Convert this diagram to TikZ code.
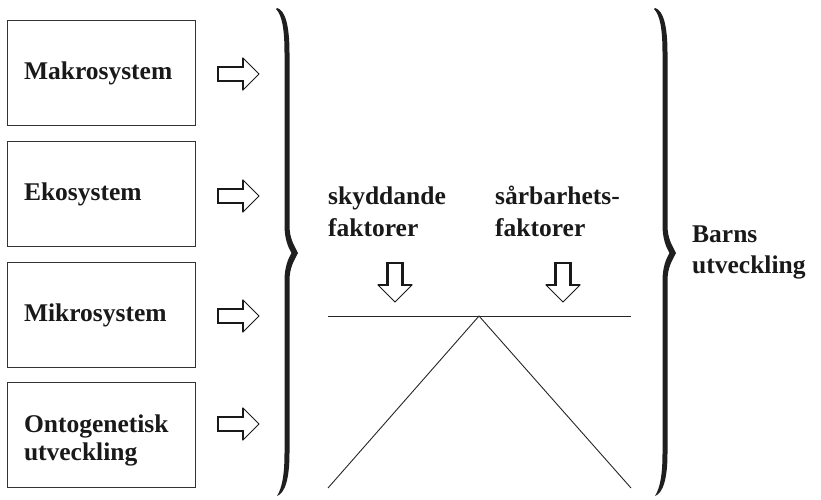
\documentclass[tikz,border=0pt]{standalone}
\usepackage{fontspec}
\setmainfont{Liberation Serif}
\begin{document}
\begin{tikzpicture}[x=1pt,y=-1pt,
  txt/.style={font=\fontsize{25.5}{28}\bfseries\selectfont, text=black!90},
  box/.style={txt, draw=black!80, line width=0.9pt, minimum width=188pt, minimum height=105pt,
    text width=154pt, inner xsep=17pt, inner ysep=0pt, align=left},
  onebox/.style={box, text height=17pt, text depth=3pt},
  lbl/.style={txt, inner sep=0pt, align=left},
  rarr/.pic={
    \draw[line width=1pt, line join=miter, draw=black!90] (-20.5,-7) -- (4.5,-7) -- (4.5,-16) -- (20.5,0) -- (4.5,16) -- (4.5,7) -- (-20.5,7) -- cycle;
    \draw[line width=2.8pt, draw=black!90] (4.5,-16) -- (4.5,-7) -- (-20.5,-7) -- (-20.5,7) -- (4.5,7) -- (4.5,16);
  },
  darr/.pic={
    \draw[line width=1pt, line join=miter, draw=black!90] (-7.5,-19.5) -- (7.5,-19.5) -- (7.5,2.5) -- (17,2.5) -- (0,19.5) -- (-17,2.5) -- (-7.5,2.5) -- cycle;
    \draw[line width=2.8pt, draw=black!90] (-17,2.5) -- (-7.5,2.5) -- (-7.5,-19.5) -- (7.5,-19.5) -- (7.5,2.5) -- (17,2.5);
  },
  brace/.pic={
    \fill[black!88] (-20,-245) .. controls (-12,-243) and (-7.5,-228) .. (-7.5,-200) -- (-7.5,-28)
      .. controls (-7.5,-14) and (-3,-8) .. (1,0)
      .. controls (-3,8) and (-7.5,14) .. (-7.5,28) -- (-7.5,200)
      .. controls (-7.5,226) and (-12,240) .. (-20,243)
      .. controls (-15,235) and (-12.5,222) .. (-12.5,200) -- (-12.5,28)
      .. controls (-12.5,14) and (-9,6) .. (-5.5,0)
      .. controls (-9,-6) and (-12.5,-14) .. (-12.5,-28) -- (-12.5,-200)
      .. controls (-12.5,-224) and (-15,-238) .. (-21,-244) -- cycle;
  }]
\useasboundingbox (0,0) rectangle (821,499);

% left boxes
\node[onebox] (b1) at (101,72.5) {Makrosystem};
\node[onebox] (b2) at (101,193.5) {Ekosystem};
\node[onebox] (b3) at (101,314.5) {Mikrosystem};
\node[box] (b4) at (101,435) {\parbox{154pt}{\vspace*{10pt}Ontogenetisk\\utveckling}};

% hollow right arrows
\pic at (238.5,74) {rarr};
\pic at (238.5,196) {rarr};
\pic at (238.5,316) {rarr};
\pic at (238.5,424) {rarr};

% braces
\pic at (297,253) {brace};
\pic at (675,253) {brace};

% factor labels (anchor = baseline of last line)
\node[lbl, anchor=base west, font=\fontsize{25.5}{32}\bfseries\selectfont] (sk) at (328,236) {skyddande\\faktorer};
\node[lbl, anchor=base west, font=\fontsize{25.5}{32}\bfseries\selectfont] (sa) at (495,236) {sårbarhets-\\faktorer};

% down arrows
\pic at (395,282.5) {darr};
\pic at (563,282.5) {darr};

% balance
\coordinate (bl) at (328,316);
\coordinate (br) at (631,316);
\coordinate (apex) at (479,316);
\coordinate (fl) at (328,488);
\coordinate (fr) at (631,488);
\draw[line width=1pt, black!85] (bl) -- (br);
\draw[line width=0.9pt, black!85] (fl) -- (apex) -- (fr);

% result
\node[lbl, anchor=base west, font=\fontsize{25.5}{31}\bfseries\selectfont] (bu) at (692,273) {Barns\\utveckling};
\end{tikzpicture}
\end{document}
